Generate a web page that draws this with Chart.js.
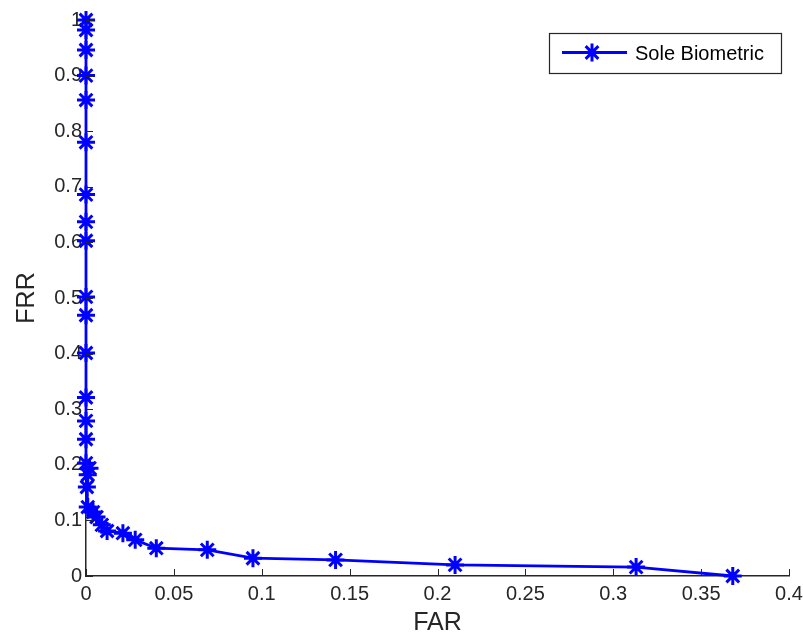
<!DOCTYPE html>
<html>
<head>
<meta charset="utf-8">
<script src="https://cdn.jsdelivr.net/npm/chart.js@4/dist/chart.umd.min.js"></script>
<style>
  html, body { margin: 0; padding: 0; background: #fff; }
  #wrap { width: 803px; height: 636px; position: relative; }
</style>
</head>
<body>
<div id="wrap"><canvas id="c" width="803" height="636"></canvas></div>
<script>
const seriesLabel = 'Sole Biometric';
const far = [0, 0, 0, 0, 0, 0, 0, 0, 0, 0, 0, 0, 0, 0, 0, 0, 0.002, 0.001, 0.0005, 0.001, 0.004, 0.006, 0.009, 0.012, 0.021, 0.028, 0.040, 0.069, 0.095, 0.142, 0.210, 0.313, 0.368];
const frr = [1.0, 0.982, 0.946, 0.900, 0.856, 0.780, 0.686, 0.637, 0.603, 0.502, 0.469, 0.401, 0.321, 0.279, 0.246, 0.203, 0.194, 0.182, 0.160, 0.124, 0.115, 0.106, 0.092, 0.081, 0.077, 0.065, 0.050, 0.047, 0.032, 0.029, 0.020, 0.016, 0.0];
const xTicks = [0, 0.05, 0.1, 0.15, 0.2, 0.25, 0.3, 0.35, 0.4];
const yTicks = [0, 0.1, 0.2, 0.3, 0.4, 0.5, 0.6, 0.7, 0.8, 0.9, 1];

const AXIS = '#262626';
const BLUE = '#0000ff';
const FONT = 'Liberation Sans, Arial, sans-serif';

const points = far.map((x, i) => ({ x: x, y: frr[i] }));

const innerTicks = {
  id: 'innerTicks',
  afterDatasetsDraw(chart) {
    const { ctx, chartArea: a, scales } = chart;
    ctx.save();
    ctx.strokeStyle = AXIS;
    ctx.lineWidth = 1;
    xTicks.forEach(v => {
      const px = Math.round(scales.x.getPixelForValue(v)) + 0.5;
      ctx.beginPath(); ctx.moveTo(px, a.bottom); ctx.lineTo(px, a.bottom - 7); ctx.stroke();
    });
    yTicks.forEach(v => {
      const py = Math.round(scales.y.getPixelForValue(v)) + 0.5;
      ctx.beginPath(); ctx.moveTo(a.left, py); ctx.lineTo(a.left + 7, py); ctx.stroke();
    });
    ctx.restore();
  }
};

const customLegend = {
  id: 'customLegend',
  afterDraw(chart) {
    const { ctx } = chart;
    const ds = chart.data.datasets[0];
    ctx.save();
    ctx.fillStyle = '#ffffff';
    ctx.fillRect(549.5, 33.5, 232, 40);
    ctx.strokeStyle = AXIS;
    ctx.lineWidth = 1.2;
    ctx.strokeRect(549.5, 33.5, 232, 40);
    ctx.strokeStyle = ds.borderColor;
    ctx.lineWidth = ds.borderWidth;
    ctx.beginPath(); ctx.moveTo(562, 52.5); ctx.lineTo(627, 52.5); ctx.stroke();
    ctx.lineWidth = ds.pointBorderWidth;
    ctx.strokeStyle = ds.borderColor;
    ctx.fillStyle = ds.borderColor;
    Chart.helpers.drawPoint(ctx, { pointStyle: 'star', radius: ds.pointRadius, borderWidth: ds.pointBorderWidth, rotation: 0 }, 592, 52.5);
    ctx.fillStyle = '#000';
    ctx.font = '20px ' + FONT;
    ctx.textBaseline = 'middle';
    ctx.textAlign = 'left';
    ctx.fillText(ds.label, 635, 54);
    ctx.restore();
  }
};

new Chart(document.getElementById('c'), {
  type: 'line',
  data: {
    datasets: [{
      label: seriesLabel,
      data: points,
      borderColor: BLUE,
      backgroundColor: BLUE,
      borderWidth: 2.8,
      pointStyle: 'star',
      pointRadius: 9,
      pointBorderWidth: 3,
      pointBorderColor: BLUE,
      pointBackgroundColor: BLUE,
      tension: 0,
      fill: false,
      clip: false
    }]
  },
  options: {
    responsive: false,
    animation: false,
    events: [],
    layout: { padding: { top: 20, right: 14, left: 0, bottom: 0 } },
    plugins: {
      legend: { display: false },
      tooltip: { enabled: false }
    },
    scales: {
      x: {
        type: 'linear',
        min: 0, max: 0.4,
        afterBuildTicks: s => { s.ticks = xTicks.map(v => ({ value: v })); },
        afterFit: s => { s.height = 60; s.paddingLeft = 0; s.paddingRight = 0; },
        ticks: {
          color: AXIS,
          font: { family: FONT, size: 20 },
          padding: 6,
          maxRotation: 0,
          autoSkip: false,
          callback: v => String(+v.toFixed(2))
        },
        grid: { display: true, drawOnChartArea: false, drawTicks: false },
        border: { display: true, color: AXIS, width: 1.5 },
        title: {
          display: true, text: 'FAR', color: AXIS,
          font: { family: FONT, size: 25, lineHeight: 1 },
          padding: { top: 2, bottom: 0 }
        }
      },
      y: {
        type: 'linear',
        min: 0, max: 1,
        afterBuildTicks: s => { s.ticks = yTicks.map(v => ({ value: v })); },
        afterFit: s => { s.width = 86; s.paddingTop = 0; s.paddingBottom = 0; },
        ticks: {
          color: AXIS,
          font: { family: FONT, size: 20 },
          padding: 4,
          autoSkip: false,
          callback: v => String(+v.toFixed(1))
        },
        grid: { display: true, drawOnChartArea: false, drawTicks: false },
        border: { display: true, color: AXIS, width: 1.5 },
        title: {
          display: true, text: 'FRR', color: AXIS,
          font: { family: FONT, size: 25, lineHeight: 1 },
          padding: { top: 15, bottom: 0 }
        }
      }
    }
  },
  plugins: [innerTicks, customLegend]
});
</script>
</body>
</html>
